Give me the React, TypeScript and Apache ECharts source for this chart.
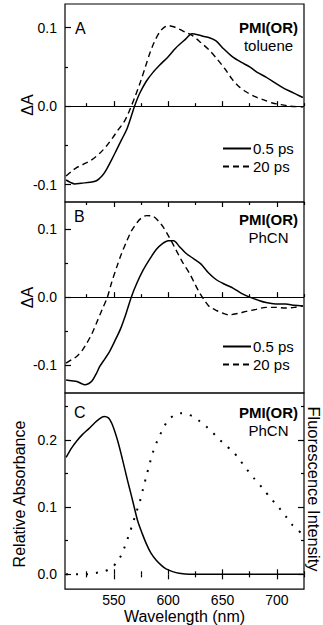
import React, { useEffect, useRef } from "react";
import * as echarts from "echarts";

// Panel A (toluene) transient absorption, [wavelength nm, ΔA]
const aSolid: [number, number][] = [
  [506, -0.094], [510, -0.097], [514, -0.099], [520, -0.098], [528, -0.097], [534, -0.095],
  [539, -0.089], [543, -0.081], [548, -0.068], [552, -0.057], [557, -0.043], [562, -0.029],
  [566, -0.013], [569, 0.0], [574, 0.017], [580, 0.032], [586, 0.043], [592, 0.052],
  [600, 0.063], [607, 0.074], [615, 0.084], [622, 0.092], [627, 0.091], [632, 0.089],
  [638, 0.087], [644, 0.083], [651, 0.073], [659, 0.063], [667, 0.056], [675, 0.050],
  [682, 0.043], [690, 0.037], [698, 0.030], [705, 0.024], [712, 0.019], [718, 0.015], [724, 0.011],
];
const aDashed: [number, number][] = [
  [506, -0.089], [511, -0.083], [516, -0.078], [525, -0.072], [531, -0.067], [537, -0.060],
  [543, -0.051], [549, -0.040], [554, -0.030], [559, -0.021], [563, -0.010], [566, 0.0],
  [570, 0.014], [574, 0.029], [579, 0.050], [583, 0.067], [587, 0.081], [592, 0.094],
  [596, 0.100], [600, 0.1025], [605, 0.101], [610, 0.098], [616, 0.094], [622, 0.090],
  [630, 0.081], [638, 0.071], [645, 0.060], [653, 0.046], [659, 0.034], [665, 0.025],
  [672, 0.018], [680, 0.012], [688, 0.008], [696, 0.004], [704, 0.002], [711, 0.0], [724, -0.001],
];

// Panel B (PhCN) transient absorption, [wavelength nm, ΔA]
const bSolid: [number, number][] = [
  [506, -0.122], [511, -0.123], [516, -0.124], [520, -0.127], [523, -0.129], [527, -0.127],
  [530, -0.123], [534, -0.112], [537, -0.102], [542, -0.090], [546, -0.080], [551, -0.064],
  [556, -0.047], [561, -0.025], [566, 0.0], [571, 0.020], [577, 0.040], [583, 0.056],
  [589, 0.070], [595, 0.079], [600, 0.083], [605, 0.083], [610, 0.075], [616, 0.065],
  [623, 0.057], [630, 0.049], [637, 0.036], [644, 0.026], [652, 0.019], [660, 0.013],
  [667, 0.006], [675, 0.0], [682, -0.004], [690, -0.008], [699, -0.010], [708, -0.010],
  [716, -0.012], [724, -0.013],
];
const bDashed: [number, number][] = [
  [506, -0.097], [511, -0.092], [516, -0.087], [521, -0.078], [525, -0.068], [530, -0.053],
  [534, -0.038], [539, -0.019], [544, 0.0], [548, 0.022], [553, 0.046], [557, 0.064],
  [562, 0.083], [566, 0.097], [571, 0.109], [575, 0.116], [580, 0.120], [586, 0.119],
  [591, 0.112], [595, 0.104], [601, 0.088], [607, 0.070], [613, 0.052], [620, 0.034],
  [625, 0.018], [629, 0.006], [634, -0.006], [638, -0.014], [645, -0.020], [651, -0.024],
  [656, -0.026], [664, -0.024], [672, -0.021], [681, -0.018], [690, -0.015], [699, -0.015],
  [708, -0.016], [716, -0.015], [724, -0.013],
];

// Panel C steady-state spectra, [wavelength nm, relative value]
const cAbsorbance: [number, number][] = [
  [506, 0.174], [511, 0.188], [516, 0.199], [521, 0.208], [527, 0.217], [532, 0.225],
  [537, 0.232], [541, 0.235], [545, 0.233], [548, 0.225], [551, 0.212], [554, 0.196],
  [557, 0.177], [560, 0.157], [563, 0.137], [566, 0.118], [569, 0.098], [572, 0.079],
  [576, 0.061], [580, 0.045], [584, 0.032], [589, 0.021], [594, 0.013], [598, 0.008],
  [604, 0.004], [610, 0.0015], [620, 0.0], [650, 0.0], [680, 0.0], [724, 0.0],
];
const cFluorescence: [number, number][] = [
  [506, 0.0], [515, 0.0], [525, 0.0], [533, 0.002], [540, 0.004], [545, 0.007],
  [549, 0.011], [552, 0.017], [556, 0.026], [559, 0.037], [562, 0.050], [565, 0.064],
  [568, 0.079], [571, 0.094], [574, 0.109], [577, 0.128], [580, 0.147], [583, 0.165],
  [586, 0.182], [589, 0.195], [592, 0.206], [596, 0.219], [600, 0.230], [606, 0.237],
  [612, 0.240], [618, 0.238], [623, 0.235], [629, 0.228], [635, 0.220], [641, 0.211],
  [647, 0.201], [653, 0.192], [660, 0.182], [666, 0.170], [672, 0.157], [679, 0.143],
  [687, 0.128], [694, 0.114], [702, 0.099], [708, 0.087], [714, 0.074], [722, 0.062],
];

const xMajor = [550, 600, 650, 700];
const xMinor = [525, 575, 625, 675, 725];
const dAMajor = [-0.1, 0, 0.1];
const dAMinor = [-0.05, 0.05];
const cMajor = [0, 0.1, 0.2];
const cMinor = [0.05, 0.15, 0.25];

const FONT = "'Liberation Sans', Arial, Helvetica, sans-serif";

export default function App() {
  const ref = useRef<HTMLDivElement>(null);
  useEffect(() => {
    if (!ref.current) return;
    const chart = echarts.init(ref.current, null, { renderer: "svg" });
    const L = 65, W = 239;
    const grids = [
      { left: L, top: 4, width: W, height: 198 },
      { left: L, top: 202, width: W, height: 191 },
      { left: L, top: 393, width: W, height: 200 },
    ].map((g) => ({ ...g, show: true, borderColor: "#000", borderWidth: 1.2, backgroundColor: "transparent" }));

    const xAx = (gridIndex: number, position: string, ticks: number[], len: number, labels = false, name = "") => ({
      type: "value",
      gridIndex,
      position,
      min: 505,
      max: 725,
      name,
      nameLocation: "middle",
      nameGap: 17,
      nameTextStyle: { fontFamily: FONT, fontSize: 16, color: "#000" },
      axisLine: { show: false },
      splitLine: { show: false },
      axisTick: { show: true, inside: true, length: len, customValues: ticks, lineStyle: { color: "#000", width: 1.2 } },
      axisLabel: labels
        ? { show: true, customValues: xMajor, margin: 4, fontFamily: FONT, fontSize: 14, color: "#000" }
        : { show: false },
    });

    const yAx = (gridIndex: number, position: string, min: number, max: number, ticks: number[], len: number, labels: number[] | null) => ({
      type: "value",
      gridIndex,
      position,
      min,
      max,
      axisLine: { show: false },
      splitLine: { show: false },
      axisTick: { show: true, inside: true, length: len, customValues: ticks, lineStyle: { color: "#000", width: 1.2 } },
      axisLabel: labels
        ? { show: true, customValues: labels, margin: 8, fontFamily: FONT, fontSize: 14, color: "#000", formatter: (v: number) => v.toFixed(1) }
        : { show: false },
    });

    const xAxis = [
      xAx(0, "bottom", xMajor, 5),
      xAx(0, "bottom", xMinor, 3),
      xAx(1, "bottom", xMajor, 5),
      xAx(1, "bottom", xMinor, 3),
      xAx(1, "top", xMajor, 5),
      xAx(1, "top", xMinor, 3),
      xAx(2, "bottom", xMajor, 5, true, "Wavelength (nm)"),
      xAx(2, "bottom", xMinor, 3),
      xAx(2, "top", xMajor, 5),
      xAx(2, "top", xMinor, 3),
    ];
    const yAxis = [
      yAx(0, "left", -0.122, 0.13, dAMajor, 6, dAMajor),
      yAx(0, "left", -0.122, 0.13, dAMinor, 3, null),
      yAx(1, "left", -0.141, 0.14, dAMajor, 6, dAMajor),
      yAx(1, "left", -0.141, 0.14, dAMinor, 3, null),
      yAx(2, "left", -0.022, 0.27, cMajor, 6, cMajor),
      yAx(2, "left", -0.022, 0.27, cMinor, 3, null),
      yAx(2, "right", -0.022, 0.27, cMajor, 6, null),
      yAx(2, "right", -0.022, 0.27, cMinor, 3, null),
    ];

    const zeroLine = {
      silent: true,
      symbol: ["none", "none"],
      label: { show: false },
      lineStyle: { color: "#000", type: "solid", width: 1.2 },
      data: [{ yAxis: 0 }],
    };
    const solid = { color: "#000", width: 1.5, type: "solid" };
    const dashed = { color: "#000", width: 1.4, type: [6, 4] };

    const series = [
      { name: "0.5 ps", type: "line", xAxisIndex: 0, yAxisIndex: 0, data: aSolid, symbol: "none", smooth: 0.3, lineStyle: solid, itemStyle: { color: "#000" }, markLine: zeroLine, z: 3 },
      { name: "20 ps", type: "line", xAxisIndex: 0, yAxisIndex: 0, data: aDashed, symbol: "none", smooth: 0.3, lineStyle: dashed, itemStyle: { color: "#000" }, z: 3 },
      { name: "0.5 ps", type: "line", xAxisIndex: 2, yAxisIndex: 2, data: bSolid, symbol: "none", smooth: 0.3, lineStyle: solid, itemStyle: { color: "#000" }, markLine: zeroLine, z: 3 },
      { name: "20 ps", type: "line", xAxisIndex: 2, yAxisIndex: 2, data: bDashed, symbol: "none", smooth: 0.3, lineStyle: dashed, itemStyle: { color: "#000" }, z: 3 },
      { name: "Absorbance", type: "line", xAxisIndex: 6, yAxisIndex: 4, data: cAbsorbance, symbol: "none", smooth: 0.3, lineStyle: solid, itemStyle: { color: "#000" }, z: 3 },
      { name: "Fluorescence", type: "line", xAxisIndex: 6, yAxisIndex: 6, data: cFluorescence, symbol: "none", smooth: 0.3, lineStyle: { color: "#000", width: 2, type: [2, 8] }, itemStyle: { color: "#000" }, z: 3 },
    ];

    const legendBase = {
      orient: "vertical",
      left: 222,
      itemWidth: 28,
      itemHeight: 14,
      itemGap: 3,
      padding: 0,
      selectedMode: false,
      itemStyle: { opacity: 0 },
      textStyle: { fontFamily: FONT, fontSize: 15, color: "#000", padding: [0, 0, 0, -3] },
      data: ["0.5 ps", "20 ps"],
    };

    const txt = (x: number, y: number, text: string, opts: any = {}) => ({
      type: "text",
      x,
      y,
      rotation: opts.rotation || 0,
      silent: true,
      style: { text, fill: "#000", font: `${opts.bold ? "bold " : ""}${opts.size || 15}px ${FONT}`, align: opts.align || "center", verticalAlign: "middle" },
    });

    chart.setOption({
      animation: false,
      backgroundColor: "#fff",
      grid: grids,
      xAxis,
      yAxis,
      series,
      legend: [
        { ...legendBase, top: 141 },
        { ...legendBase, top: 339 },
      ],
      graphic: [
        txt(27, 105, "ΔA", { size: 16, rotation: Math.PI / 2 }),
        txt(27, 297.5, "ΔA", { size: 16, rotation: Math.PI / 2 }),
        txt(19, 494, "Relative Absorbance", { size: 16, rotation: Math.PI / 2 }),
        txt(314, 489, "Fluorescence Intensity", { size: 16.5, rotation: -Math.PI / 2 }),
        txt(75, 28, "A", { size: 16, align: "left" }),
        txt(74, 216, "B", { size: 16, align: "left" }),
        txt(74, 412, "C", { size: 16, align: "left" }),
        txt(268.5, 27.5, "PMI(OR)", { bold: true }),
        txt(268.5, 45, "toluene"),
        txt(268.5, 219, "PMI(OR)", { bold: true }),
        txt(268.5, 237, "PhCN"),
        txt(268.5, 412, "PMI(OR)", { bold: true }),
        txt(268.5, 430, "PhCN"),
      ],
    });
    return () => chart.dispose();
  }, []);
  return <div ref={ref} style={{ position: "fixed", left: 0, top: 0, width: 323, height: 625 }} />;
}
